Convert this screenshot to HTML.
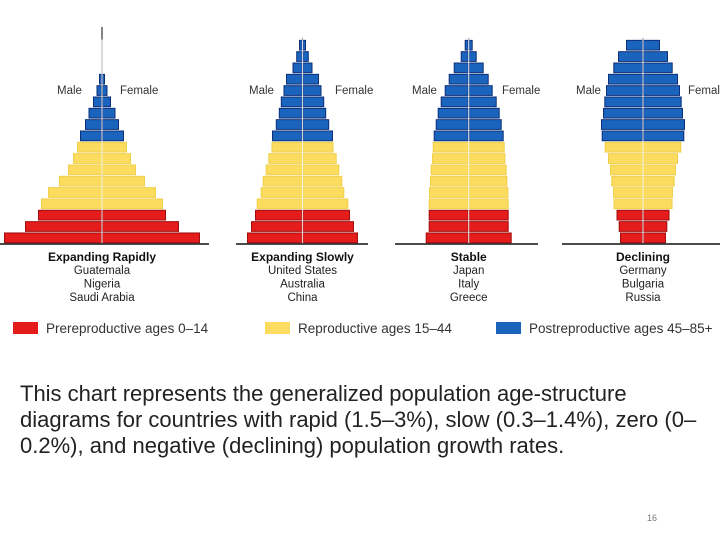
<!DOCTYPE html>
<html><head><meta charset="utf-8"><style>
html,body{margin:0;padding:0;background:#fff;width:720px;height:540px;overflow:hidden}
svg{position:absolute;left:0;top:0}
.p{position:absolute;left:20px;top:381px;width:690px;font:22px/26px "Liberation Sans",sans-serif;color:#222}
</style></head><body>
<svg id="chart" width="720" height="540" font-family="Liberation Sans, sans-serif"></svg>
<div class="p">This chart represents the generalized population age-structure diagrams for countries with rapid (1.5–3%), slow (0.3–1.4%), zero (0–<wbr>0.2%), and negative (declining) population growth rates.</div>
<script>
// Age cohort groups (bottom to top): 3 prereproductive, 6 reproductive, 9 postreproductive
const ageGroups = ["pre","pre","pre","rep","rep","rep","rep","rep","rep","post","post","post","post","post","post","post","post","post"];
const titles = ["Expanding Rapidly","Expanding Slowly","Stable","Declining"];
const countries = [["Guatemala","Nigeria","Saudi Arabia"],["United States","Australia","China"],["Japan","Italy","Greece"],["Germany","Bulgaria","Russia"]];
// half-width (relative population share per sex) for each cohort, bottom to top
const rapidValues = [98,77,64,61,54,43,34,29,25,22,17,13.5,9,5.5,3,0,0,0];
const slowValues = [55.5,51.5,47.5,45.8,41.8,39.8,36.8,34.2,31,30.5,26.7,23.7,21.7,19,16.5,10,6.3,3.5];
const stableValues = [43,40,40,40,39.7,38.7,38,36.7,36,35,33,31,28,24,20,15,8,4];
const decliningValues = [23,24.3,26.5,29.5,30,31.7,33,35,38.3,41.3,42,40,38.7,37,35,29.7,25,17];
const legendLabels = ["Prereproductive ages 0–14","Reproductive ages 15–44","Postreproductive ages 45–85+"];

const series=[rapidValues,slowValues,stableValues,decliningValues];
const centers=[102,302.5,468.7,643];
const baseRanges=[[0,209],[236,368],[395,538],[562,720]];
const maleX=[57,249,412,576], femaleX=[120,335,502,688];
const fill={pre:"#e41c1c",rep:"#fbdc5e",post:"#1a64bd"};
const stroke={pre:"#a00d0d",rep:"#f0cf4a",post:"#0c2f78"};
const ns="http://www.w3.org/2000/svg";
const svg=document.getElementById('chart');
const base=243.5, rowH=11.33;
function yScale(i){return base-(i+1)*rowH;}
function wScale(v){return v;}
function mk(t,a,p){const e=document.createElementNS(ns,t);for(const k in a)e.setAttribute(k,a[k]);(p||svg).appendChild(e);return e;}
series.forEach((vals,pi)=>{
  const g=mk('g',{});
  
  
  const c=centers[pi];
  const axis=mk('line',{x1:c,x2:c,y1:pi==0?27:38,y2:base,stroke:pi==0?"#333":"#999","stroke-width":1.2},g);
  
  
  vals.forEach((v,i)=>{
    if(v<=0)return;
    const w=wScale(v), y=yScale(i)+0.8, h=rowH-1.6, grp=ageGroups[i];
    ['male','female'].forEach(side=>{
      const x= side=='male'? c-w : c;
      const r=mk('rect',{x:x+0.5,y:y,width:Math.max(w-1,0.5),height:h,fill:fill[grp],stroke:stroke[grp],"stroke-width":1},g);
      
      
    });
  });
  const cl=mk('line',{x1:c,x2:c,y1:yScale(17),y2:base,stroke:"#fff","stroke-width":1.2,opacity:0.8},g);
  
  
  const bl=mk('line',{x1:baseRanges[pi][0],x2:baseRanges[pi][1],y1:244,y2:244,stroke:"#111","stroke-width":1.5},g);
  
  
  const m=mk('text',{x:maleX[pi],y:94,"font-size":11.5,fill:"#333"},g);m.textContent="Male";
  
  
  const f=mk('text',{x:femaleX[pi],y:94,"font-size":11.5,fill:"#333"},g);f.textContent="Female";
  
  
  const t=mk('text',{x:c,y:261,"font-size":12,"font-weight":"bold","text-anchor":"middle",fill:"#111"},g);t.textContent=titles[pi];
  
  
  countries[pi].forEach((n,k)=>{
    const ct=mk('text',{x:c,y:274+k*13.5,"font-size":11.5,"text-anchor":"middle",fill:"#222"},g);ct.textContent=n;
    
    
  });
});
const legX=[13,265,496], legKeys=["pre","rep","post"];
legendLabels.forEach((l,i)=>{
  const g=mk('g',{});
  
  
  mk('rect',{x:legX[i],y:322,width:25,height:12,fill:fill[legKeys[i]]},g);
  const t=mk('text',{x:legX[i]+33,y:333,"font-size":13.5,fill:"#333"},g);t.textContent=l;
});
const pn=mk('text',{x:647,y:521,"font-size":9,fill:"#777"});pn.textContent="16";


</script>
</body></html>
